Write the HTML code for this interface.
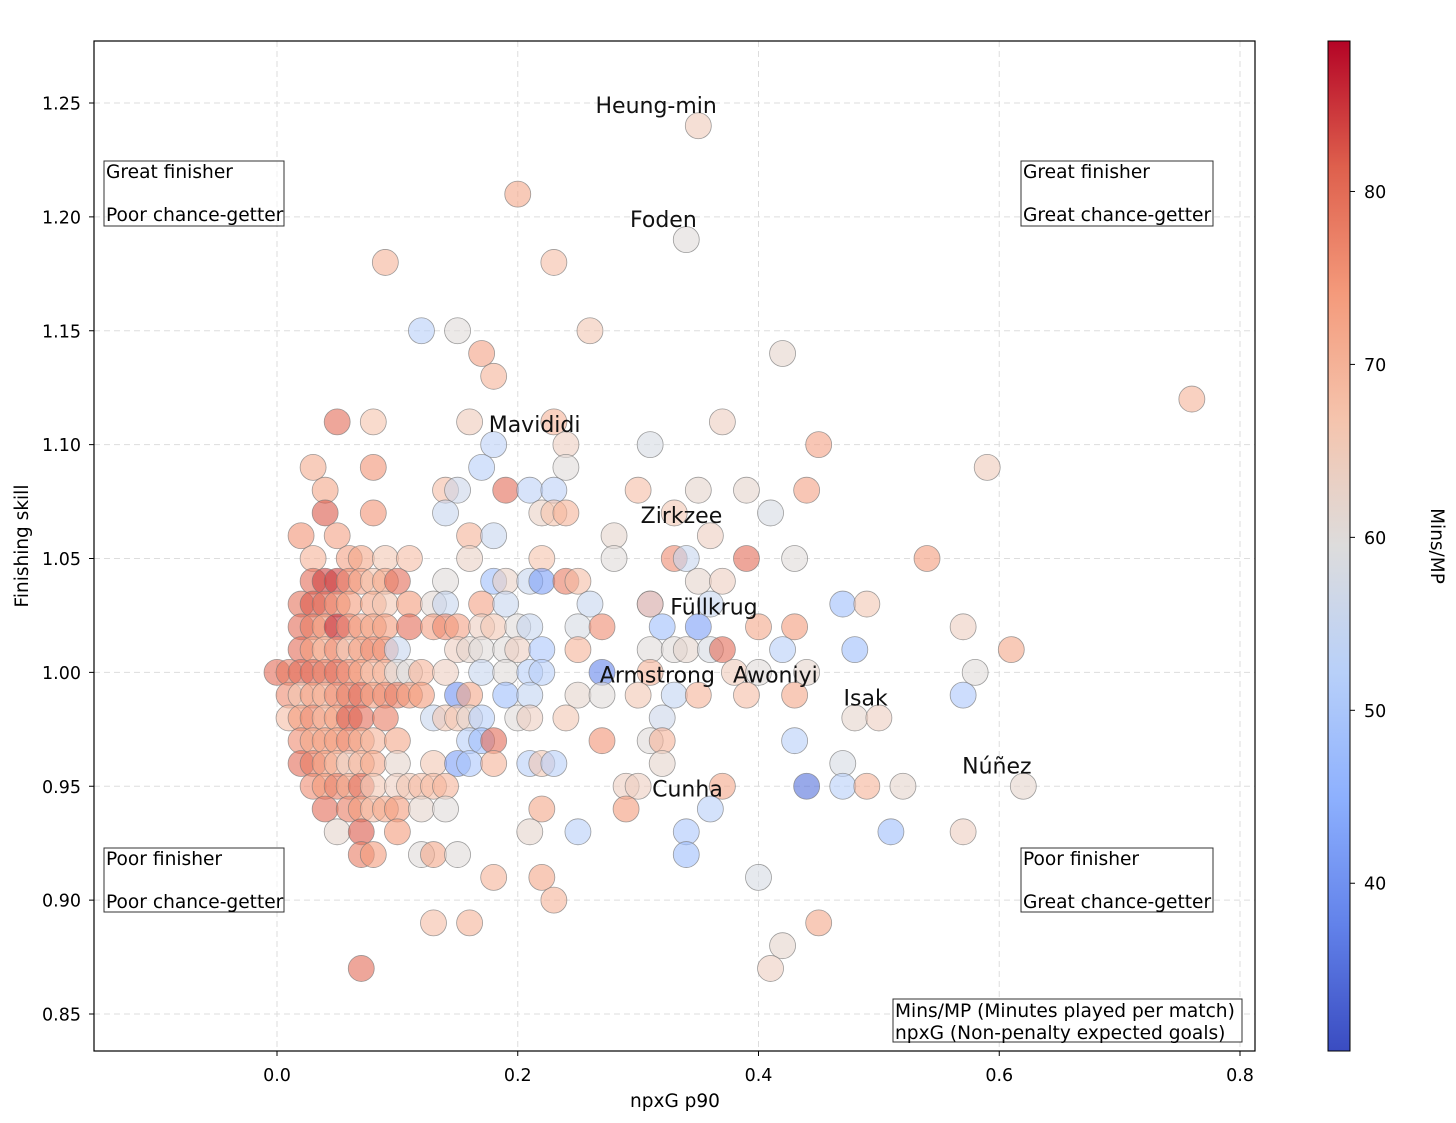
<!DOCTYPE html>
<html><head><meta charset="utf-8">
<style>
html,body{margin:0;padding:0;background:#fff;}
svg{display:block;font-family:"DejaVu Sans","Liberation Sans",sans-serif;}
</style></head>
<body>
<svg id="chart" width="1456" height="1123" viewBox="0 0 1456 1123">
<defs>
<linearGradient id="cmap" x1="0" y1="1" x2="0" y2="0">
<stop offset="0" stop-color="rgb(58,76,193)"/>
<stop offset="0.125" stop-color="rgb(98,130,234)"/>
<stop offset="0.25" stop-color="rgb(141,176,254)"/>
<stop offset="0.375" stop-color="rgb(184,208,249)"/>
<stop offset="0.5" stop-color="rgb(221,220,220)"/>
<stop offset="0.625" stop-color="rgb(245,196,173)"/>
<stop offset="0.75" stop-color="rgb(244,154,123)"/>
<stop offset="0.875" stop-color="rgb(222,96,77)"/>
<stop offset="1" stop-color="rgb(180,4,38)"/>
</linearGradient>
</defs>
<g id="grid"></g>
<g id="points"></g>
<g id="labels"></g>
<rect x="94" y="41" width="1161" height="1010" fill="none" stroke="#000" stroke-width="1.2"/>
<g id="axes"></g>

<g>
<rect x="104" y="161" width="180" height="65" fill="#fff" fill-opacity="0.6" stroke="#333"/>
<text x="106" y="178" font-size="18.6">Great finisher</text>
<text x="106" y="221" font-size="18.6">Poor chance-getter</text>
</g>
<g>
<rect x="1021" y="161" width="192" height="65" fill="#fff" fill-opacity="0.6" stroke="#333"/>
<text x="1023" y="178" font-size="18.6">Great finisher</text>
<text x="1023" y="221" font-size="18.6">Great chance-getter</text>
</g>
<g>
<rect x="104" y="848" width="180" height="64" fill="#fff" fill-opacity="0.6" stroke="#333"/>
<text x="106" y="865" font-size="18.6">Poor finisher</text>
<text x="106" y="908" font-size="18.6">Poor chance-getter</text>
</g>
<g>
<rect x="1021" y="848" width="192" height="64" fill="#fff" fill-opacity="0.6" stroke="#333"/>
<text x="1023" y="865" font-size="18.6">Poor finisher</text>
<text x="1023" y="908" font-size="18.6">Great chance-getter</text>
</g>
<g>
<rect x="893" y="999" width="349" height="43" fill="#fff" stroke="#333"/>
<text x="895" y="1017" font-size="18.6">Mins/MP (Minutes played per match)</text>
<text x="895" y="1039" font-size="18.6">npxG (Non-penalty expected goals)</text>
</g>

<text x="675" y="1107" font-size="18.5" text-anchor="middle">npxG p90</text>
<text x="0" y="0" font-size="18.5" text-anchor="middle" transform="translate(28,546) rotate(-90)">Finishing skill</text>

<rect x="1328" y="41" width="22" height="1010" fill="url(#cmap)" stroke="#000" stroke-width="1"/>
<g id="cbticks"></g>
<text x="0" y="0" font-size="18.5" text-anchor="middle" transform="translate(1431,546) rotate(90)">Mins/MP</text>
</svg>
<script>
const xTicks=[0.0,0.2,0.4,0.6,0.8];
const xTickLabels=["0.0","0.2","0.4","0.6","0.8"];
const yTicks=[0.85,0.90,0.95,1.00,1.05,1.10,1.15,1.20,1.25];
const yTickLabels=["0.85","0.90","0.95","1.00","1.05","1.10","1.15","1.20","1.25"];
const cTicks=[40,50,60,70,80];
const cMin=30.3, cMax=88.7;
const npxg=[0.35,0.20,0.34,0.09,0.23,0.12,0.15,0.26,0.17,0.42,0.18,0.76,0.05,0.08,0.16,0.23,0.37,0.18,0.24,0.31,0.45,0.03,0.08,0.17,0.24,0.59,0.04,0.14,0.15,0.19,0.21,0.23,0.30,0.35,0.39,0.44,0.04,0.08,0.14,0.22,0.23,0.24,0.33,0.41,0.02,0.05,0.16,0.18,0.28,0.36,0.03,0.06,0.07,0.09,0.11,0.16,0.22,0.28,0.33,0.34,0.39,0.43,0.54,
0.03,0.04,0.05,0.06,0.07,0.08,0.09,0.10,0.14,0.18,0.19,0.21,0.22,0.24,0.25,0.35,0.37,
0.02,0.03,0.04,0.05,0.06,0.08,0.09,0.11,0.13,0.14,0.17,0.19,0.26,0.31,0.31,0.36,0.47,0.49,
0.02,0.03,0.04,0.05,0.06,0.07,0.08,0.09,0.11,0.13,0.14,0.15,0.17,0.18,0.20,0.21,0.25,0.27,0.32,0.35,0.40,0.43,0.57,
0.02,0.03,0.04,0.05,0.06,0.07,0.08,0.09,0.10,0.15,0.16,0.17,0.19,0.20,0.22,0.25,0.31,0.33,0.34,0.36,0.37,0.42,0.48,0.61,
0.00,0.01,0.02,0.03,0.04,0.05,0.06,0.07,0.08,0.09,0.10,0.11,0.12,0.14,0.17,0.19,0.21,0.22,0.27,0.31,0.38,0.40,0.44,0.58,
0.01,0.02,0.03,0.04,0.05,0.06,0.07,0.08,0.09,0.10,0.11,0.12,0.15,0.16,0.19,0.21,0.25,0.27,0.30,0.33,0.35,0.39,0.43,0.57,
0.01,0.02,0.03,0.04,0.05,0.06,0.07,0.09,0.13,0.14,0.15,0.16,0.17,0.20,0.21,0.24,0.32,0.48,0.50,
0.02,0.03,0.04,0.05,0.06,0.07,0.08,0.10,0.16,0.17,0.18,0.27,0.31,0.32,0.43,
0.02,0.03,0.04,0.05,0.06,0.07,0.08,0.10,0.13,0.15,0.16,0.18,0.21,0.22,0.23,0.32,0.47,
0.03,0.04,0.05,0.06,0.07,0.08,0.10,0.11,0.12,0.13,0.14,0.29,0.30,0.37,0.44,0.47,0.49,0.52,0.62,
0.04,0.06,0.07,0.08,0.09,0.10,0.12,0.14,0.22,0.29,0.36,
0.05,0.07,0.10,0.21,0.25,0.34,0.51,0.57,
0.07,0.08,0.12,0.13,0.15,0.34,
0.18,0.22,0.40,0.23,0.13,0.16,0.45,0.42,0.07,0.41];
const finishing=[1.24,1.21,1.19,1.18,1.18,1.15,1.15,1.15,1.14,1.14,1.13,1.12,1.11,1.11,1.11,1.11,1.11,1.10,1.10,1.10,1.10,1.09,1.09,1.09,1.09,1.09,1.08,1.08,1.08,1.08,1.08,1.08,1.08,1.08,1.08,1.08,1.07,1.07,1.07,1.07,1.07,1.07,1.07,1.07,1.06,1.06,1.06,1.06,1.06,1.06,1.05,1.05,1.05,1.05,1.05,1.05,1.05,1.05,1.05,1.05,1.05,1.05,1.05,
1.04,1.04,1.04,1.04,1.04,1.04,1.04,1.04,1.04,1.04,1.04,1.04,1.04,1.04,1.04,1.04,1.04,
1.03,1.03,1.03,1.03,1.03,1.03,1.03,1.03,1.03,1.03,1.03,1.03,1.03,1.03,1.03,1.03,1.03,1.03,
1.02,1.02,1.02,1.02,1.02,1.02,1.02,1.02,1.02,1.02,1.02,1.02,1.02,1.02,1.02,1.02,1.02,1.02,1.02,1.02,1.02,1.02,1.02,
1.01,1.01,1.01,1.01,1.01,1.01,1.01,1.01,1.01,1.01,1.01,1.01,1.01,1.01,1.01,1.01,1.01,1.01,1.01,1.01,1.01,1.01,1.01,1.01,
1.00,1.00,1.00,1.00,1.00,1.00,1.00,1.00,1.00,1.00,1.00,1.00,1.00,1.00,1.00,1.00,1.00,1.00,1.00,1.00,1.00,1.00,1.00,1.00,
0.99,0.99,0.99,0.99,0.99,0.99,0.99,0.99,0.99,0.99,0.99,0.99,0.99,0.99,0.99,0.99,0.99,0.99,0.99,0.99,0.99,0.99,0.99,0.99,
0.98,0.98,0.98,0.98,0.98,0.98,0.98,0.98,0.98,0.98,0.98,0.98,0.98,0.98,0.98,0.98,0.98,0.98,0.98,
0.97,0.97,0.97,0.97,0.97,0.97,0.97,0.97,0.97,0.97,0.97,0.97,0.97,0.97,0.97,
0.96,0.96,0.96,0.96,0.96,0.96,0.96,0.96,0.96,0.96,0.96,0.96,0.96,0.96,0.96,0.96,0.96,
0.95,0.95,0.95,0.95,0.95,0.95,0.95,0.95,0.95,0.95,0.95,0.95,0.95,0.95,0.95,0.95,0.95,0.95,0.95,
0.94,0.94,0.94,0.94,0.94,0.94,0.94,0.94,0.94,0.94,0.94,
0.93,0.93,0.93,0.93,0.93,0.93,0.93,0.93,
0.92,0.92,0.92,0.92,0.92,0.92,
0.91,0.91,0.91,0.90,0.89,0.89,0.89,0.88,0.87,0.87];
const minsPerMatch=[65,72,60,70,68,52,60,66,73,62,70,70,80,67,65,70,64,53,64,58,73,71,75,52,60,65,72,68,56,80,53,53,68,62,62,73,82,75,55,63,67,70,66,58,75,73,70,55,62,64,70,73,72,66,68,63,67,60,76,55,80,60,74,
80,84,84,76,73,67,72,80,60,48,63,55,42,78,68,62,64,
79,82,80,76,74,72,66,74,61,55,73,55,55,50,68,55,48,66,
80,78,74,86,76,73,72,74,80,73,76,73,64,66,60,55,58,76,48,42,72,74,64,
80,74,70,76,66,74,76,75,55,64,62,60,60,64,50,70,60,60,62,58,80,52,48,72,
80,78,80,80,78,80,76,74,68,70,60,60,70,64,55,60,52,52,38,70,65,60,62,60,
76,66,74,70,76,78,80,74,76,78,74,74,40,72,48,54,62,60,66,54,70,68,72,50,
68,74,76,70,74,82,80,78,55,66,66,62,52,60,64,66,56,62,64,
76,72,74,74,76,72,70,72,52,48,80,75,60,70,52,
80,78,74,70,64,70,72,62,66,42,50,70,52,66,52,62,58,
76,74,78,72,80,66,64,66,68,68,70,64,64,72,35,52,70,62,62,
80,78,74,68,72,74,62,60,72,74,52,
62,82,74,62,52,50,48,64,
78,74,60,72,60,48,
70,72,58,70,68,70,72,62,80,64];
const playerNames=["Heung-min","Foden","Mavididi","Zirkzee","Füllkrug","Armstrong","Awoniyi","Isak","Núñez","Cunha"];
const playerLabelX=[0.315,0.321,0.214,0.336,0.363,0.316,0.414,0.489,0.598,0.341];
const playerLabelY=[1.2455,1.1955,1.1055,1.0655,1.0255,0.9955,0.9955,0.9855,0.9555,0.9455];

const NS="http://www.w3.org/2000/svg";
const X0=94,X1=1255,Y0=41,Y1=1051;
function xs(v){return 277+v*1203.75;}
function ys(v){return 103+(1.25-v)*2277.5;}
function cs(v){return 1051-(v-cMin)/(cMax-cMin)*1010;}
const stops=[[58,76,193],[98,130,234],[141,176,254],[184,208,249],[221,220,220],[245,196,173],[244,154,123],[222,96,77],[180,4,38]];
function cmap(v){let t=(v-cMin)/(cMax-cMin);t=Math.max(0,Math.min(1,t))*8;const i=Math.min(7,Math.floor(t));const f=t-i;const a=stops[i],b=stops[i+1];return "rgb("+a.map((c,k)=>Math.round(c+(b[k]-c)*f)).join(",")+")";}
function mk(tag,attrs,parent){const e=document.createElementNS(NS,tag);for(const k in attrs)e.setAttribute(k,attrs[k]);parent.appendChild(e);return e;}

const grid=document.getElementById('grid'),axes=document.getElementById('axes');
xTicks.forEach((v,i)=>{const x=xs(v);
 const gl=mk('line',{x1:x,x2:x,y1:Y0,y2:Y1,stroke:'#ddd','stroke-dasharray':'6,4','stroke-width':1},grid);
 
 
 const t=mk('line',{x1:x,x2:x,y1:Y1,y2:Y1+5,stroke:'#000'},axes);
 
 
 const l=mk('text',{x:x,y:1081,'font-size':17.5,'text-anchor':'middle'},axes);l.textContent=xTickLabels[i];
 
 
});
yTicks.forEach((v,i)=>{const y=ys(v);
 const gl=mk('line',{x1:X0,x2:X1,y1:y,y2:y,stroke:'#ddd','stroke-dasharray':'6,4','stroke-width':1},grid);
 
 
 const t=mk('line',{x1:X0-5,x2:X0,y1:y,y2:y,stroke:'#000'},axes);
 
 
 const l=mk('text',{x:81,y:y+6.5,'font-size':17.5,'text-anchor':'end'},axes);l.textContent=yTickLabels[i];
 
 
});
const pts=document.getElementById('points');
for(let i=0;i<npxg.length;i++){
 const c=mk('circle',{cx:xs(npxg[i]),cy:ys(finishing[i]),r:13,fill:cmap(minsPerMatch[i]),'fill-opacity':0.6,stroke:'#777','stroke-opacity':0.7,'stroke-width':0.8},pts);
 
 
}
const lab=document.getElementById('labels');
playerNames.forEach((n,i)=>{
 const t=mk('text',{x:xs(playerLabelX[i]),y:ys(playerLabelY[i]),'font-size':22,'text-anchor':'middle',fill:'#111'},lab);
 t.textContent=n;
 
 
});
const cb=document.getElementById('cbticks');
cTicks.forEach(v=>{const y=cs(v);
 const t=mk('line',{x1:1350,x2:1355,y1:y,y2:y,stroke:'#000'},cb);
 
 
 const l=mk('text',{x:1364,y:y+6.5,'font-size':17.5},cb);l.textContent=v;
 
 
});
</script>
</body></html>
